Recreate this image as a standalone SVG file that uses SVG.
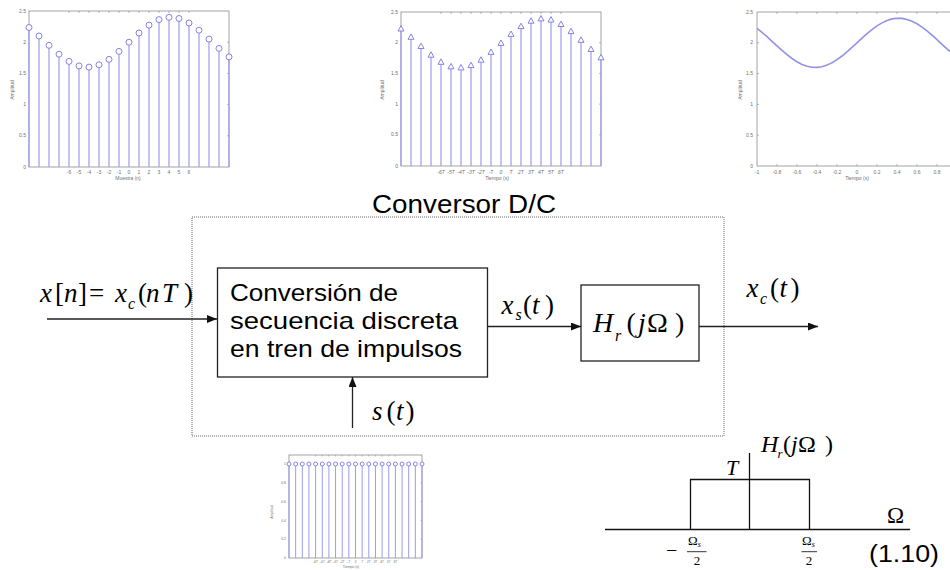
<svg xmlns="http://www.w3.org/2000/svg" xmlns:xlink="http://www.w3.org/1999/xlink" width="950" height="570" viewBox="0 0 950 570">
<style>
.frame{fill:none;stroke:#8c8c8c;stroke-width:0.8}
.tick{fill:none;stroke:#8c8c8c;stroke-width:0.6}
.stem{fill:none;stroke:#9c9cee;stroke-width:1.2}
.mk{fill:#fff;stroke:#8484e4;stroke-width:1}
.curve{fill:none;stroke:#9292e8;stroke-width:1.6}
.tl{font-family:"Liberation Sans",Arial,sans-serif;font-size:5px;fill:#707070;text-anchor:middle}
.tly{font-family:"Liberation Sans",Arial,sans-serif;font-size:5px;fill:#707070;text-anchor:end}
.blk{fill:#fff;stroke:#222;stroke-width:1.3}
.dot{fill:none;stroke:#666;stroke-width:1;stroke-dasharray:1 1}
.wire{fill:none;stroke:#222;stroke-width:1.3}
.sans{font-family:"Liberation Sans",Arial,sans-serif;fill:#000}
.m{font-family:"Liberation Serif","Times New Roman",serif;font-style:italic;fill:#000}
.u{font-style:normal}
.ax{fill:none;stroke:#111;stroke-width:1.3}
</style>
<defs>
<marker id="arr" markerUnits="userSpaceOnUse" markerWidth="10" markerHeight="8" refX="10" refY="4" orient="auto">
<path d="M0,0 L10,4 L0,8 Z" fill="#111"/>
</marker>
<circle id="c3" r="3" class="mk"/>
<circle id="c2" r="2" class="mk"/>
<path id="tri" d="M0,-3.2 L3,2.2 L-3,2.2 Z" class="mk"/>
</defs>

<!-- Plot 1: x[n] -->
<g id="plot1">
<rect class="frame" x="29" y="11" width="200" height="156"/>
<path class="tick" d="M69,11v2M79,11v2M89,11v2M99,11v2M109,11v2M119,11v2M129,11v2M139,11v2M149,11v2M159,11v2M169,11v2M179,11v2M189,11v2M229,42.2h-2M229,73.4h-2M229,104.6h-2M229,135.8h-2"/>
<path class="stem" d="M29,167V27.5M39,167V36M49,167V45.3M59,167V54.2M69,167V61.4M79,167V65.9M89,167V67.1M99,167V64.8M109,167V59.3M119,167V51.4M129,167V42.2M139,167V33M149,167V25.1M159,167V19.6M169,167V17.3M179,167V18.5M189,167V23M199,167V30.2M209,167V39.1M219,167V48.4M229,167V56.9"/>
<use href="#c3" x="29" y="27.5"/><use href="#c3" x="39" y="36"/><use href="#c3" x="49" y="45.3"/><use href="#c3" x="59" y="54.2"/><use href="#c3" x="69" y="61.4"/><use href="#c3" x="79" y="65.9"/><use href="#c3" x="89" y="67.1"/><use href="#c3" x="99" y="64.8"/><use href="#c3" x="109" y="59.3"/><use href="#c3" x="119" y="51.4"/><use href="#c3" x="129" y="42.2"/><use href="#c3" x="139" y="33"/><use href="#c3" x="149" y="25.1"/><use href="#c3" x="159" y="19.6"/><use href="#c3" x="169" y="17.3"/><use href="#c3" x="179" y="18.5"/><use href="#c3" x="189" y="23"/><use href="#c3" x="199" y="30.2"/><use href="#c3" x="209" y="39.1"/><use href="#c3" x="219" y="48.4"/><use href="#c3" x="229" y="56.9"/>
<text class="tly"><tspan x="26" y="12.5">2.5</tspan><tspan x="26" y="43.7">2</tspan><tspan x="26" y="74.9">1.5</tspan><tspan x="26" y="106.1">1</tspan><tspan x="26" y="137.3">0.5</tspan><tspan x="26" y="168.5">0</tspan></text>
<text class="tl" y="174"><tspan x="69">-6</tspan><tspan x="79">-5</tspan><tspan x="89">-4</tspan><tspan x="99">-3</tspan><tspan x="109">-2</tspan><tspan x="119">-1</tspan><tspan x="129">0</tspan><tspan x="139">1</tspan><tspan x="149">2</tspan><tspan x="159">3</tspan><tspan x="169">4</tspan><tspan x="179">5</tspan><tspan x="189">6</tspan></text>
<text class="tl" x="128" y="180">Muestra (n)</text>
<text class="tl" transform="translate(14,90) rotate(-90)">Amplitud</text>
</g>

<!-- Plot 2: impulse train x_s -->
<g id="plot2">
<rect class="frame" x="401" y="12" width="200" height="154"/>
<path class="tick" d="M441,12v2M451,12v2M461,12v2M471,12v2M481,12v2M491,12v2M501,12v2M511,12v2M521,12v2M531,12v2M541,12v2M551,12v2M561,12v2M601,42.7h-2M601,73.4h-2M601,104.1h-2M601,134.8h-2"/>
<path class="stem" d="M401,166V28.8M411,166V37.1M421,166V46.3M431,166V55M441,166V62.1M451,166V66.6M461,166V67.7M471,166V65.4M481,166V60M491,166V52.2M501,166V43.2M511,166V34.2M521,166V26.4M531,166V21M541,166V18.7M551,166V19.8M561,166V24.3M571,166V31.4M581,166V40.1M591,166V49.3M601,166V57.6"/>
<use href="#tri" x="401" y="28.8"/><use href="#tri" x="411" y="37.1"/><use href="#tri" x="421" y="46.3"/><use href="#tri" x="431" y="55"/><use href="#tri" x="441" y="62.1"/><use href="#tri" x="451" y="66.6"/><use href="#tri" x="461" y="67.7"/><use href="#tri" x="471" y="65.4"/><use href="#tri" x="481" y="60"/><use href="#tri" x="491" y="52.2"/><use href="#tri" x="501" y="43.2"/><use href="#tri" x="511" y="34.2"/><use href="#tri" x="521" y="26.4"/><use href="#tri" x="531" y="21"/><use href="#tri" x="541" y="18.7"/><use href="#tri" x="551" y="19.8"/><use href="#tri" x="561" y="24.3"/><use href="#tri" x="571" y="31.4"/><use href="#tri" x="581" y="40.1"/><use href="#tri" x="591" y="49.3"/><use href="#tri" x="601" y="57.6"/>
<text class="tly"><tspan x="398" y="13.5">2.5</tspan><tspan x="398" y="44.2">2</tspan><tspan x="398" y="74.9">1.5</tspan><tspan x="398" y="105.6">1</tspan><tspan x="398" y="136.3">0.5</tspan><tspan x="398" y="167.5">0</tspan></text>
<text class="tl" y="173.5" style="font-style:italic"><tspan x="441">-6T</tspan><tspan x="451">-5T</tspan><tspan x="461">-4T</tspan><tspan x="471">-3T</tspan><tspan x="481">-2T</tspan><tspan x="491">-T</tspan><tspan x="501">0</tspan><tspan x="511">T</tspan><tspan x="521">2T</tspan><tspan x="531">3T</tspan><tspan x="541">4T</tspan><tspan x="551">5T</tspan><tspan x="561">6T</tspan></text>
<text class="tl" x="497" y="180">Tiempo (s)</text>
<text class="tl" transform="translate(384,90) rotate(-90)">Amplitud</text>
</g>

<!-- Plot 3: continuous output -->
<g id="plot3">
<path class="frame" d="M950,12H757V166H950"/>
<path class="tick" d="M777,12v2M797,12v2M817,12v2M837,12v2M857,12v2M877,12v2M897,12v2M917,12v2M937,12v2M777,166v-2M797,166v-2M817,166v-2M837,166v-2M857,166v-2M877,166v-2M897,166v-2M917,166v-2M937,166v-2M757,42.8h2M757,73.6h2M757,104.4h2M757,135.2h2"/>
<polyline class="curve" points="757,28.3 762,32.3 767,36.7 772,41.3 777,45.9 782,50.4 787,54.7 792,58.5 797,61.8 802,64.4 807,66.2 812,67.3 817,67.4 822,66.7 827,65.1 832,62.7 837,59.7 842,56 847,51.9 852,47.4 857,42.8 862,38.2 867,33.7 872,29.6 877,25.9 882,22.9 887,20.5 892,18.9 897,18.2 902,18.4 907,19.4 912,21.2 917,23.8 922,27.1 927,30.9 932,35.2 937,39.7 942,44.4 947,48.9 950,51.6"/>
<text class="tly"><tspan x="753" y="13.5">2.5</tspan><tspan x="753" y="44.3">2</tspan><tspan x="753" y="75.1">1.5</tspan><tspan x="753" y="105.9">1</tspan><tspan x="753" y="136.7">0.5</tspan><tspan x="753" y="167.5">0</tspan></text>
<text class="tl" y="173.5"><tspan x="757">-1</tspan><tspan x="777">-0.8</tspan><tspan x="797">-0.6</tspan><tspan x="817">-0.4</tspan><tspan x="837">-0.2</tspan><tspan x="857">0</tspan><tspan x="877">0.2</tspan><tspan x="897">0.4</tspan><tspan x="917">0.6</tspan><tspan x="937">0.8</tspan></text>
<text class="tl" x="857" y="180">Tiempo (s)</text>
<text class="tl" transform="translate(742,90) rotate(-90)">Amplitud</text>
</g>

<!-- Plot 4: s(t) impulse train -->
<g id="plot4">
<rect class="frame" x="289" y="455" width="133" height="103"/>
<path class="tick" d="M315.6,455v1.5M322.25,455v1.5M328.9,455v1.5M335.55,455v1.5M342.2,455v1.5M348.85,455v1.5M355.5,455v1.5M362.15,455v1.5M368.8,455v1.5M375.45,455v1.5M382.1,455v1.5M388.75,455v1.5M395.4,455v1.5M422,482.8h-1.5M422,501.6h-1.5M422,520.4h-1.5M422,539.2h-1.5"/>
<path class="stem" style="stroke-width:1" d="M289,558V464M295.65,558V464M302.3,558V464M308.95,558V464M315.6,558V464M322.25,558V464M328.9,558V464M335.55,558V464M342.2,558V464M348.85,558V464M355.5,558V464M362.15,558V464M368.8,558V464M375.45,558V464M382.1,558V464M388.75,558V464M395.4,558V464M402.05,558V464M408.7,558V464M415.35,558V464M422,558V464"/>
<use href="#c2" x="289" y="464"/><use href="#c2" x="295.65" y="464"/><use href="#c2" x="302.3" y="464"/><use href="#c2" x="308.95" y="464"/><use href="#c2" x="315.6" y="464"/><use href="#c2" x="322.25" y="464"/><use href="#c2" x="328.9" y="464"/><use href="#c2" x="335.55" y="464"/><use href="#c2" x="342.2" y="464"/><use href="#c2" x="348.85" y="464"/><use href="#c2" x="355.5" y="464"/><use href="#c2" x="362.15" y="464"/><use href="#c2" x="368.8" y="464"/><use href="#c2" x="375.45" y="464"/><use href="#c2" x="382.1" y="464"/><use href="#c2" x="388.75" y="464"/><use href="#c2" x="395.4" y="464"/><use href="#c2" x="402.05" y="464"/><use href="#c2" x="408.7" y="464"/><use href="#c2" x="415.35" y="464"/><use href="#c2" x="422" y="464"/>
<text class="tly" style="font-size:3.5px"><tspan x="286" y="465">1</tspan><tspan x="286" y="484">0.8</tspan><tspan x="286" y="502.8">0.6</tspan><tspan x="286" y="521.6">0.4</tspan><tspan x="286" y="540.4">0.2</tspan><tspan x="286" y="559.2">0</tspan></text>
<text class="tl" y="563" style="font-size:3px;font-style:italic"><tspan x="315.6">-6T</tspan><tspan x="322.25">-5T</tspan><tspan x="328.9">-4T</tspan><tspan x="335.55">-3T</tspan><tspan x="342.2">-2T</tspan><tspan x="348.85">-T</tspan><tspan x="355.5">0</tspan><tspan x="362.15">T</tspan><tspan x="368.8">2T</tspan><tspan x="375.45">3T</tspan><tspan x="382.1">4T</tspan><tspan x="388.75">5T</tspan><tspan x="395.4">6T</tspan></text>
<text class="tl" x="351" y="568" style="font-size:3.5px">Tiempo (s)</text>
<text class="tl" style="font-size:3.5px" transform="translate(273,512) rotate(-90)">Amplitud</text>
</g>

<!-- D/C converter enclosure -->
<g id="dc-converter">
<rect class="dot" x="192" y="217" width="532" height="219"/>
<text class="sans" x="372" y="213" style="font-size:25.5px" textLength="184" lengthAdjust="spacingAndGlyphs">Conversor D/C</text>
</g>

<!-- Block 1 -->
<g id="block-conversion">
<rect class="blk" x="217.5" y="268" width="270" height="109"/>
<text class="sans" style="font-size:24px"><tspan x="230" y="301" textLength="168" lengthAdjust="spacingAndGlyphs">Conversión de</tspan><tspan x="230" y="329" textLength="228" lengthAdjust="spacingAndGlyphs">secuencia discreta</tspan><tspan x="230" y="357" textLength="232" lengthAdjust="spacingAndGlyphs">en tren de impulsos</tspan></text>
</g>

<!-- Block 2 -->
<g id="block-filter">
<rect class="blk" x="581" y="285" width="118" height="76"/>
<text class="m" style="font-size:28px" y="331.7"><tspan x="593">H</tspan><tspan x="615" y="341" style="font-size:16px">r</tspan><tspan class="u" x="626.5" y="331.7">(</tspan><tspan x="638">j</tspan><tspan class="u" x="647">Ω</tspan><tspan class="u" x="675">)</tspan></text>
</g>

<!-- Connectors -->
<g id="connectors">
<path class="wire" d="M47,319H217" marker-end="url(#arr)"/>
<path class="wire" d="M352.5,428V377" marker-end="url(#arr)"/>
<path class="wire" d="M488,326.5H581" marker-end="url(#arr)"/>
<path class="wire" d="M699,326.5H818" marker-end="url(#arr)"/>
</g>

<!-- Signal labels -->
<g id="label-input">
<text class="m" style="font-size:27px" y="302"><tspan x="40">x</tspan><tspan class="u" x="55">[</tspan><tspan x="64">n</tspan><tspan class="u" x="78">]</tspan><tspan class="u" x="89">=</tspan><tspan x="115">x</tspan><tspan x="128" y="309" style="font-size:16px">c</tspan><tspan class="u" x="138" y="302">(</tspan><tspan x="146">n</tspan><tspan x="162">T</tspan><tspan class="u" x="184">)</tspan></text>
</g>
<g id="label-xs">
<text class="m" style="font-size:27px" y="313.5"><tspan x="501.5">x</tspan><tspan x="515.5" y="320" style="font-size:16px">s</tspan><tspan class="u" x="523" y="313.5">(</tspan><tspan x="532">t</tspan><tspan class="u" x="545">)</tspan></text>
</g>
<g id="label-xc">
<text class="m" style="font-size:27px" y="296.7"><tspan x="746.5">x</tspan><tspan x="760" y="304" style="font-size:16px">c</tspan><tspan class="u" x="770" y="296.7">(</tspan><tspan x="779.5">t</tspan><tspan class="u" x="790.5">)</tspan></text>
</g>
<g id="label-s">
<text class="m" style="font-size:27px" y="420"><tspan x="372">s</tspan><tspan class="u" x="386.5">(</tspan><tspan x="396">t</tspan><tspan class="u" x="405.5">)</tspan></text>
</g>

<!-- Filter frequency response -->
<g id="filter-response">
<path class="ax" d="M605,529.5H910M749.5,453V529.5M690.5,529.5V479.5H809.5V529.5"/>
<text class="m" style="font-size:24px" y="451.7"><tspan x="761">H</tspan><tspan x="777.5" y="458" style="font-size:13px">r</tspan><tspan class="u" x="783" y="451.7">(</tspan><tspan x="791">j</tspan><tspan class="u" x="798">Ω</tspan><tspan class="u" x="825">)</tspan></text>
<text class="m" style="font-size:22px" x="726" y="475">T</text>
<text class="m u" style="font-size:23px" x="887" y="523">Ω</text>
<text class="m u" style="font-size:20px" x="666" y="557">−</text>
<text class="m u" style="font-size:13px" x="688" y="545">Ω<tspan style="font-style:italic;font-size:8px" dy="2">s</tspan></text>
<path d="M687,551.7H706.5M801.5,551.7H817" stroke="#000" stroke-width="0.8"/>
<text class="m u" style="font-size:13px" x="697" y="565" text-anchor="middle">2</text>
<text class="m u" style="font-size:13px" x="802" y="545">Ω<tspan style="font-style:italic;font-size:8px" dy="2">s</tspan></text>
<text class="m u" style="font-size:13px" x="809" y="565" text-anchor="middle">2</text>
<text class="sans" x="869" y="561.7" style="font-size:23px" textLength="70" lengthAdjust="spacingAndGlyphs">(1.10)</text>
</g>
</svg>
